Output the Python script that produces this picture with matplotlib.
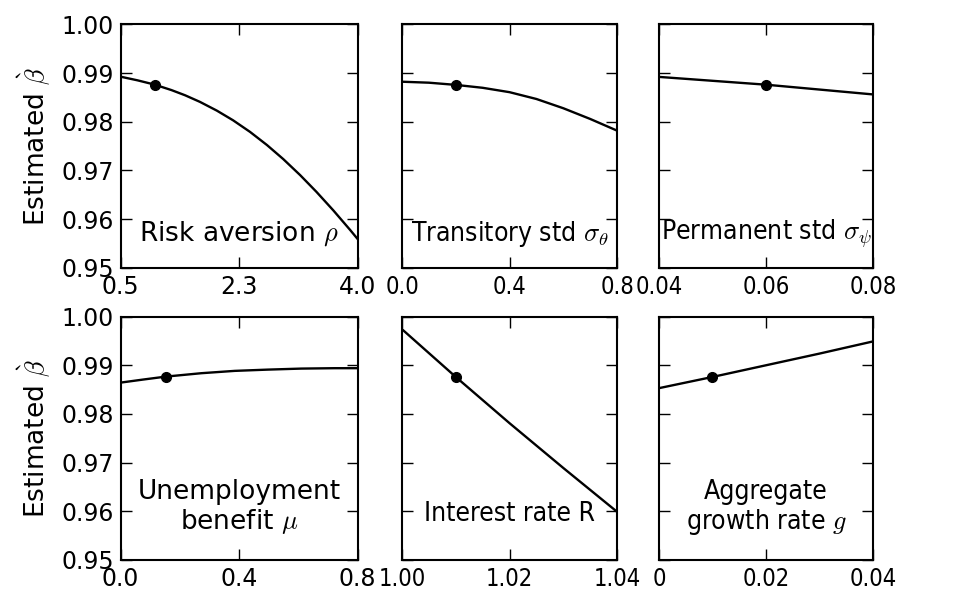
import numpy as np
import matplotlib
matplotlib.use("Agg")
import matplotlib.pyplot as plt

# estimated beta as each parameter is varied, baseline point marked
rho_x = [0.5, 0.75, 1.0, 1.25, 1.45, 1.67, 1.92, 2.16, 2.41, 2.66, 2.90, 3.15, 3.39, 3.64, 3.89, 4.0]
rho_y = [0.98924, 0.98849, 0.98762, 0.98649, 0.98543, 0.98407, 0.98227, 0.98028,
         0.97790, 0.97520, 0.97232, 0.96902, 0.96559, 0.96177, 0.95772, 0.95587]
rho_base = (1.0, 0.98762)

theta_x = [0.0, 0.1, 0.2, 0.3, 0.4, 0.5, 0.6, 0.7, 0.8]
theta_y = [0.98821, 0.98801, 0.98756, 0.98696, 0.98606, 0.98466, 0.98276, 0.98056, 0.97816]
theta_base = (0.2, 0.98756)

psi_x = [0.04, 0.05, 0.06, 0.07, 0.08]
psi_y = [0.9892, 0.9884, 0.9876, 0.9866, 0.9856]
psi_base = (0.06, 0.9876)

mu_x = [0.0, 0.075, 0.152, 0.272, 0.385, 0.497, 0.610, 0.722, 0.8]
mu_y = [0.98644, 0.98706, 0.98767, 0.98837, 0.98885, 0.98911, 0.98932, 0.98940, 0.98940]
mu_base = (0.152, 0.98767)

R_x = [1.00, 1.01, 1.02, 1.03, 1.04]
R_y = [0.9974, 0.9876, 0.9781, 0.9689, 0.9599]
R_base = (1.01, 0.9876)

g_x = [0.0, 0.01, 0.02, 0.03, 0.04]
g_y = [0.9853, 0.9876, 0.9900, 0.9924, 0.9949]
g_base = (0.01, 0.9876)

labels = ["Risk aversion $\\rho$", "Transitory std $\\sigma_\\theta$",
          "Permanent std $\\sigma_\\psi$", "Unemployment\nbenefit $\\mu$",
          "Interest rate R", "Aggregate\ngrowth rate $g$"]
xticks = [[0.5, 2.25, 4.0], [0.0, 0.4, 0.8], [0.04, 0.06, 0.08],
          [0.0, 0.4, 0.8], [1.00, 1.02, 1.04], [0.0, 0.02, 0.04]]
xticklabels = [["0.5", "2.3", "4.0"], ["0.0", "0.4", "0.8"], ["0.04", "0.06", "0.08"],
               ["0.0", "0.4", "0.8"], ["1.00", "1.02", "1.04"], ["0", "0.02", "0.04"]]
yticks = [0.95, 0.96, 0.97, 0.98, 0.99, 1.00]

plt.rcParams['mathtext.fontset'] = 'cm'
plt.rcParams['font.family'] = 'DejaVu Sans'

fig = plt.figure(figsize=(9.57, 5.92), dpi=100)

lefts = [0.1261, 0.4201, 0.6886]
widths = [0.2477, 0.2247, 0.2236]
bottoms = [0.5478, 0.0541]
height = 0.4111
text_y = [0.14, 0.14, 0.14, 0.215, 0.19, 0.215]

series = [(rho_x, rho_y, rho_base), (theta_x, theta_y, theta_base),
          (psi_x, psi_y, psi_base), (mu_x, mu_y, mu_base),
          (R_x, R_y, R_base), (g_x, g_y, g_base)]

for i, (xs, ys, base) in enumerate(series):
    row, col = divmod(i, 3)
    # the two right columns are narrower in the original, text too
    stretch = 'normal' if col == 0 else 'condensed'
    ax = fig.add_axes([lefts[col], bottoms[row], widths[col], height])
    ax.plot(xs, ys, color='black', lw=1.7)
    ax.plot([base[0]], [base[1]], 'o', color='black', ms=7)
    ax.set_xlim(xticks[i][0], xticks[i][-1])
    ax.set_ylim(0.95, 1.00)
    ax.set_xticks(xticks[i])
    ax.set_xticklabels(xticklabels[i], fontstretch=stretch)
    ax.set_yticks(yticks)
    if col == 0:
        ax.set_yticklabels(["%.2f" % v for v in yticks])
        ax.set_ylabel("Estimated $\\grave{\\beta}$", fontsize=19, labelpad=6)
    else:
        ax.set_yticklabels([])
    ax.tick_params(direction='in', top=True, right=True, length=8, width=1,
                   labelsize=17, pad=5)
    for sp in ax.spines.values():
        sp.set_linewidth(1.5)
    ax.text(0.5, text_y[i], labels[i], transform=ax.transAxes, ha='center',
            va='center', fontsize=19, linespacing=1.1, fontstretch=stretch)

fig.savefig("out.png", dpi=100)
